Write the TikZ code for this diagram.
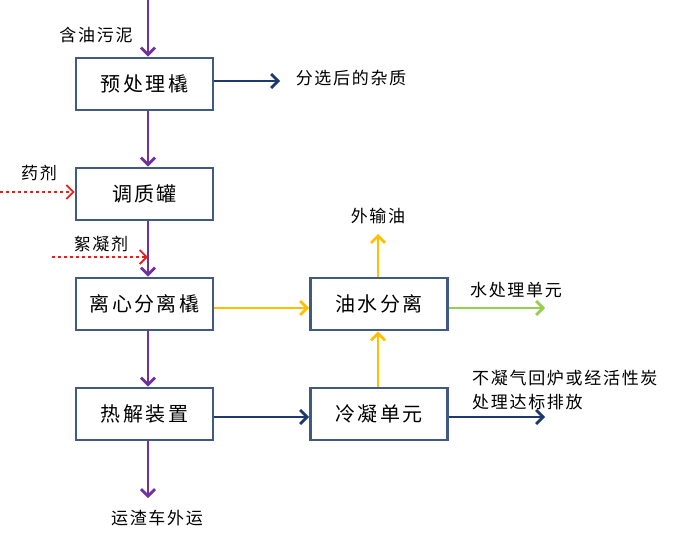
\documentclass[tikz,border=0pt]{standalone}
\usepackage{fontspec}
\setmainfont{Noto Sans CJK SC}
\usetikzlibrary{arrows.meta}
\definecolor{boxblue}{RGB}{65,90,130}
\definecolor{slurry}{RGB}{112,48,160}
\definecolor{navy}{RGB}{31,56,110}
\definecolor{oil}{RGB}{255,192,0}
\definecolor{water}{RGB}{146,208,80}
\definecolor{dose}{RGB}{230,30,30}

\begin{document}
\begin{tikzpicture}[x=1pt,y=-1pt]
 	\tikzstyle{every node}+=[inner sep=0pt]
 	\tikzstyle{unit}=[draw=boxblue, line width=2.8pt, fill=white, minimum width=137pt, minimum height=52pt, font=\fontsize{20}{24}\selectfont\addfontfeature{LetterSpace=12}]
 	\tikzstyle{lbl}=[font=\fontsize{17}{21}\selectfont\addfontfeature{LetterSpace=10}]
 	\tikzstyle{flow}=[line width=2.8pt, -{Straight Barb[length=7pt,width=14pt]}]
 	\useasboundingbox (0,0) rectangle (700,535);
 	% units
 	\node [unit] (pre) at (144.5,84) {预处理橇};
 	\node [unit] (cond) at (144.5,194) {调质罐};
 	\node [unit] (cent) at (144.5,304) {离心分离橇};
 	\node [unit] (pyro) at (144.5,414) {热解装置};
 	\node [unit] (sep) at (379,304) {油水分离};
 	\node [unit] (cool) at (379,414) {冷凝单元};
 	% labels
 	\node [lbl] (feed) at (96,35) {含油污泥};
 	\node [lbl] (waste) at (351,78) {分选后的杂质};
 	\node [lbl] (agent) at (39,173) {药剂};
 	\node [lbl] (floc) at (101,244) {絮凝剂};
 	\node [lbl] (oilout) at (378,216) {外输油};
 	\node [lbl] (wtu) at (516,290) {水处理单元};
 	\node [lbl, anchor=west, align=left] (gas) at (472,390) {不凝气回炉或经活性炭\\[3pt]处理达标排放};
 	\node [lbl] (slag) at (157,518) {运渣车外运};
 	% free ends
 	\coordinate (in) at (148,0);
 	\coordinate (wasteend) at (280,81);
 	\coordinate (agentstart) at (0,192);
 	\coordinate (flocstart) at (52,257);
 	\coordinate (oilend) at (378,234);
 	\coordinate (wtuend) at (545,308);
 	\coordinate (gasend) at (545,417);
 	\coordinate (slagend) at (148,498);
 	% main line
 	\draw [flow, slurry] (in) -- (in |- pre.north);
 	\draw [flow, slurry] (in |- pre.south) -- (in |- cond.north);
 	\draw [flow, slurry] (in |- cond.south) -- (in |- cent.north);
 	\draw [flow, slurry] (in |- cent.south) -- (in |- pyro.north);
 	\draw [flow, slurry] (in |- pyro.south) -- (slagend);
 	\draw [flow, navy] (pre.east |- wasteend) -- (wasteend);
 	% dosing
 	\draw [flow, dose, dashed, line width=1.8pt] (agentstart) -- (agentstart -| cond.west);
 	\draw [flow, dose, dashed, line width=1.8pt] (flocstart) -- (flocstart -| in);
 	% oil and water
 	\draw [flow, oil] (cent.east |- 0,308) -- (sep.west |- 0,308);
 	\draw [flow, oil] (sep.north -| oilend) -- (oilend);
 	\draw [flow, water] (sep.east |- wtuend) -- (wtuend);
 	\draw [flow, oil] (cool.north -| oilend) -- (sep.south -| oilend);
 	\draw [flow, navy] (pyro.east |- gasend) -- (cool.west |- gasend);
 	\draw [flow, navy] (cool.east |- gasend) -- (gasend);
\end{tikzpicture}
\end{document}
